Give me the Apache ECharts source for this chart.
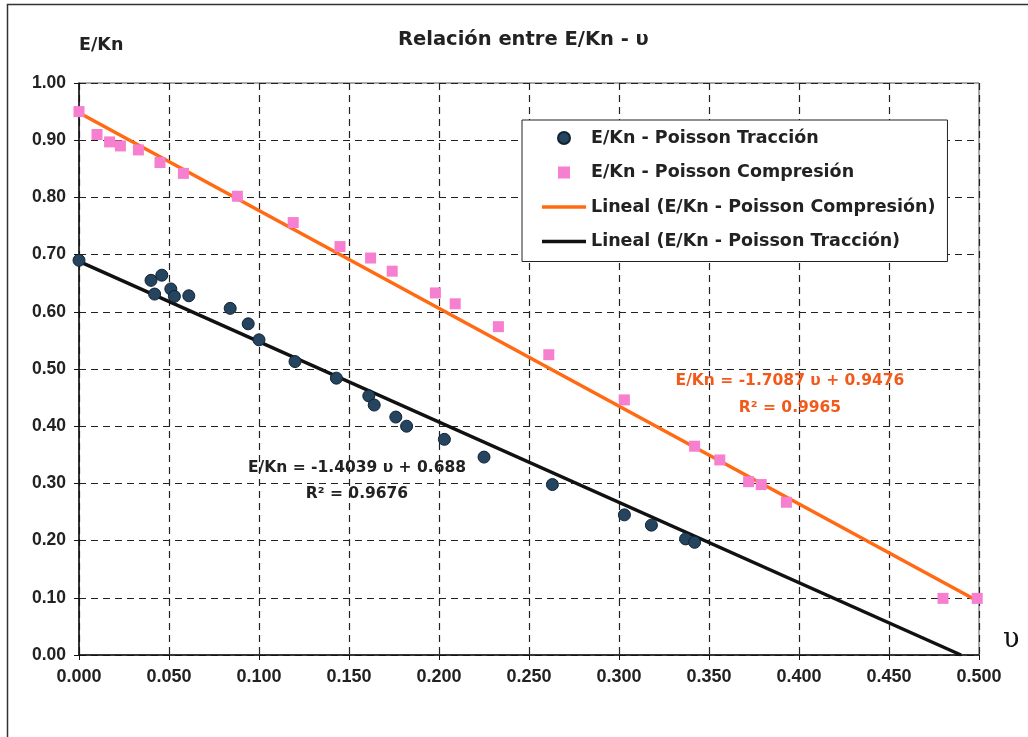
<!DOCTYPE html>
<html>
<head>
<meta charset="utf-8">
<script src="https://cdn.jsdelivr.net/npm/echarts@6/dist/echarts.min.js"></script>
<style>html,body{margin:0;padding:0;background:#fff}#c{width:1028px;height:737px}</style>
</head>
<body>
<div id="c"></div>
<script>
// ---- data ----
const tracX = [0.000, 0.040, 0.042, 0.046, 0.051, 0.053, 0.061, 0.084, 0.094, 0.100, 0.120, 0.143, 0.161, 0.164, 0.176, 0.182, 0.203, 0.225, 0.263, 0.303, 0.318, 0.337, 0.342];
const tracY = [0.690, 0.655, 0.631, 0.664, 0.640, 0.627, 0.628, 0.606, 0.579, 0.551, 0.513, 0.484, 0.453, 0.437, 0.416, 0.400, 0.377, 0.346, 0.298, 0.245, 0.227, 0.203, 0.197];
const compX = [0.000, 0.010, 0.017, 0.023, 0.033, 0.045, 0.058, 0.088, 0.119, 0.145, 0.162, 0.174, 0.198, 0.209, 0.233, 0.261, 0.303, 0.342, 0.356, 0.372, 0.379, 0.393, 0.480, 0.499];
const compY = [0.950, 0.910, 0.897, 0.890, 0.883, 0.861, 0.842, 0.802, 0.756, 0.714, 0.694, 0.671, 0.633, 0.614, 0.574, 0.525, 0.446, 0.365, 0.341, 0.303, 0.298, 0.267, 0.099, 0.099];
// trend line end points
const compFitX = [0.000, 0.500];
const compFitY = [0.948, 0.093];
const tracFitX = [0.000, 0.490];
const tracFitY = [0.688, 0.000];
const seriesNames = ['E/Kn - Poisson Tracción', 'E/Kn - Poisson Compresión', 'Lineal (E/Kn - Poisson Compresión)', 'Lineal (E/Kn - Poisson Tracción)'];
const compEq = ['E/Kn = -1.7087 υ + 0.9476', 'R² = 0.9965'];
const tracEq = ['E/Kn = -1.4039 υ + 0.688', 'R² = 0.9676'];
const titleText = 'Relación entre E/Kn - υ';
const xName = 'υ';
const yName = 'E/Kn';

const zip = (a, b) => a.map((v, i) => [v, b[i]]);
const SANS = 'DejaVu Sans';
const ARIAL = 'Liberation Sans';

const chart = echarts.init(document.getElementById('c'), null, {renderer: 'canvas'});
chart.setOption({
  animation: false,
  backgroundColor: '#fff',
  title: {
    text: titleText, left: 398, top: 29, padding: 0,
    textStyle: {fontFamily: SANS, fontWeight: 'bold', fontSize: 19.5, lineHeight: 22, color: '#222'}
  },
  grid: {left: 79, top: 83, right: 49, bottom: 82, show: true, borderColor: '#555', borderWidth: 1, backgroundColor: 'transparent'},
  xAxis: {
    type: 'value', min: 0, max: 0.5, interval: 0.05,
    name: xName, nameLocation: 'end', nameGap: 24,
    nameTextStyle: {fontFamily: 'DejaVu Serif', fontSize: 27, lineHeight: 30, verticalAlign: 'bottom', color: '#111'},
    axisLine: {show: true, lineStyle: {color: '#111', width: 1.5}},
    axisTick: {show: true, inside: false, length: 5, lineStyle: {color: '#111'}},
    axisLabel: {margin: 13, fontFamily: ARIAL, fontWeight: 'bold', fontSize: 18, color: '#222', formatter: v => v.toFixed(3)},
    splitLine: {show: true, lineStyle: {color: '#222', width: 1.2, type: [7, 5]}}
  },
  yAxis: {
    type: 'value', min: 0, max: 1, interval: 0.1,
    name: yName, nameLocation: 'end', nameGap: 28,
    nameTextStyle: {fontFamily: SANS, fontWeight: 'bold', fontSize: 17.5, lineHeight: 20, align: 'left', color: '#222'},
    axisLine: {show: true, lineStyle: {color: '#111', width: 1.5}},
    axisTick: {show: true, inside: false, length: 5, lineStyle: {color: '#111'}},
    axisLabel: {margin: 13, fontFamily: ARIAL, fontWeight: 'bold', fontSize: 17.5, color: '#222', formatter: v => v.toFixed(2)},
    splitLine: {show: true, lineStyle: {color: '#222', width: 1.2, type: [7, 5]}}
  },
  legend: {
    orient: 'vertical', left: 522, top: 120,
    padding: [8, 12, 10, 20],
    itemWidth: 44, itemHeight: 12, itemGap: 14.5,
    borderColor: '#222', borderWidth: 1, backgroundColor: '#fff',
    textStyle: {fontFamily: SANS, fontWeight: 'bold', fontSize: 17.5, lineHeight: 20, color: '#222'},
    data: [
      {name: seriesNames[0], icon: 'circle'},
      {name: seriesNames[1], icon: 'path://M0,0H10V10H0Z'},
      {name: seriesNames[2], icon: 'path://M0,0H44V3.5H0Z'},
      {name: seriesNames[3], icon: 'path://M0,0H44V3.5H0Z'}
    ]
  },
  graphic: [
    {type: 'rect', z: -10, silent: true, shape: {x: 7.5, y: 4.5, width: 1100, height: 800}, style: {fill: 'none', stroke: '#333', lineWidth: 1.5}},
    {type: 'text', z: 50, x: 790, y: 381, style: {text: compEq[0], textAlign: 'center', textVerticalAlign: 'middle', font: 'bold 15.5px "DejaVu Sans"', fill: '#f25a1c'}},
    {type: 'text', z: 50, x: 790, y: 408, style: {text: compEq[1], textAlign: 'center', textVerticalAlign: 'middle', font: 'bold 15.5px "DejaVu Sans"', fill: '#f25a1c'}},
    {type: 'text', z: 50, x: 357, y: 468, style: {text: tracEq[0], textAlign: 'center', textVerticalAlign: 'middle', font: 'bold 15.5px "DejaVu Sans"', fill: '#222'}},
    {type: 'text', z: 50, x: 357, y: 494, style: {text: tracEq[1], textAlign: 'center', textVerticalAlign: 'middle', font: 'bold 15.5px "DejaVu Sans"', fill: '#222'}}
  ],
  series: [
    {
      name: seriesNames[2], type: 'line', data: zip(compFitX, compFitY),
      symbol: 'none', showSymbol: false, z: 2,
      lineStyle: {color: '#ff6a13', width: 3.5}, itemStyle: {color: '#ff6a13'}
    },
    {
      name: seriesNames[3], type: 'line', data: zip(tracFitX, tracFitY),
      symbol: 'none', showSymbol: false, z: 2,
      lineStyle: {color: '#111', width: 3.5}, itemStyle: {color: '#111'}
    },
    {
      name: seriesNames[0], type: 'scatter', data: zip(tracX, tracY),
      symbol: 'circle', symbolSize: 12, z: 3,
      itemStyle: {color: '#24445f', borderColor: '#112233', borderWidth: 1, opacity: 1}
    },
    {
      name: seriesNames[1], type: 'scatter', data: zip(compX, compY),
      symbol: 'rect', symbolSize: 11, z: 3,
      itemStyle: {color: '#f77fcf', opacity: 1}
    }
  ]
});
</script>
</body>
</html>
